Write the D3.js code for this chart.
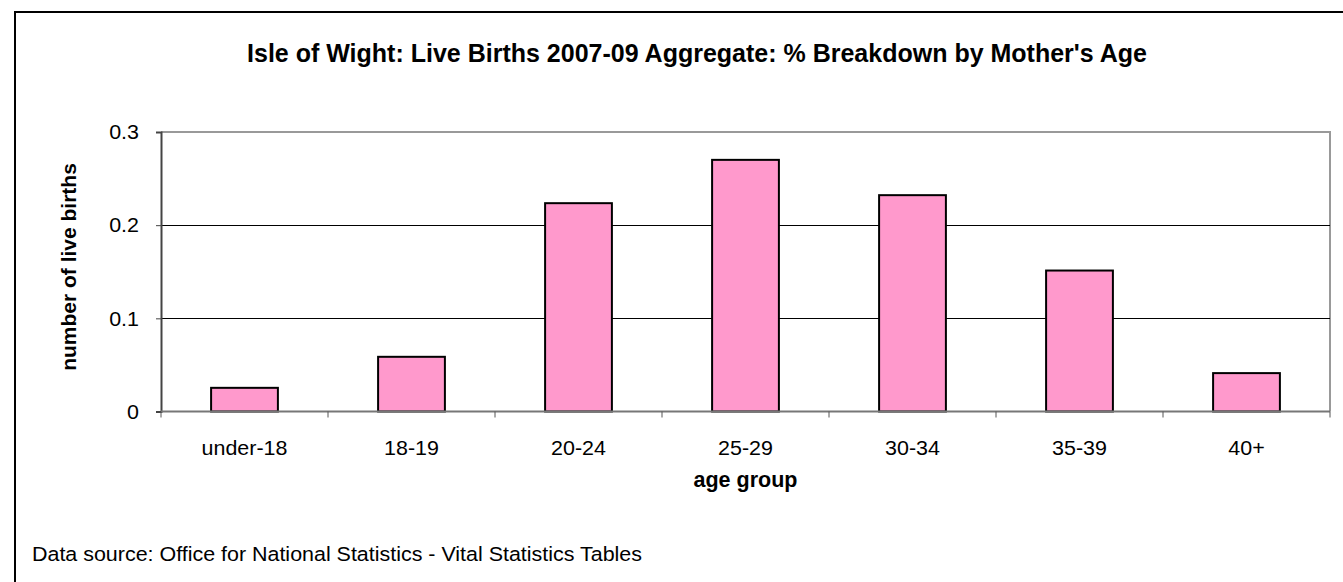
<!DOCTYPE html>
<html><head><meta charset="utf-8">
<script src="https://cdn.jsdelivr.net/npm/d3@7"></script>
<style>
html,body{margin:0;padding:0;background:#fff;}
svg{display:block;font-family:"Liberation Sans",Arial,sans-serif;}
</style></head>
<body><svg id="c" width="1343" height="582"></svg>
<script>
const categories = ["under-18","18-19","20-24","25-29","30-34","35-39","40+"];
const values = [0.0254, 0.0587, 0.2236, 0.2701, 0.2322, 0.1513, 0.0412];
const yTicks = [0, 0.1, 0.2, 0.3];
const yTickLabels = ["0","0.1","0.2","0.3"];
const title = "Isle of Wight: Live Births 2007-09 Aggregate: % Breakdown by Mother's Age";
const xTitle = "age group";
const yTitle = "number of live births";
const source = "Data source: Office for National Statistics - Vital Statistics Tables";

const svg = d3.select("#c");
const W = 1343, H = 582;
const m = {left:161, top:132, right:1330, bottom:411.5};
const SX = 1.1, FS = 19.5;

// outer frame
svg.append("rect").attr("x",15).attr("y",12).attr("width",W+10).attr("height",H+10)
  .attr("fill","#fff").attr("stroke","#000").attr("stroke-width",2);

const x = d3.scaleBand().domain(categories).range([m.left,m.right]).paddingInner(0.6).paddingOuter(0.3);
const xEdges = d3.scaleLinear().domain([0,categories.length]).range([m.left,m.right]);
const y = d3.scaleLinear().domain([0,0.3]).range([m.bottom,m.top]);

// plot border (top/right gray)
svg.append("path").attr("d",`M${m.left},${m.top}H${m.right}V${m.bottom}`)
  .attr("fill","none").attr("stroke","#999").attr("stroke-width",2);

// gridlines
svg.append("g").selectAll("line").data(yTicks.filter(d=>d>0 && d<0.3)).join("line")
  .attr("x1",m.left).attr("x2",m.right).attr("y1",d=>Math.round(y(d))+0.5).attr("y2",d=>Math.round(y(d))+0.5)
  .attr("stroke","#000").attr("stroke-width",1);

// bars
svg.append("g").selectAll("rect").data(values).join("rect")
  .attr("x",(d,i)=>x(categories[i])).attr("width",x.bandwidth())
  .attr("y",d=>y(d)).attr("height",d=>y(0)-y(d))
  .attr("fill","#FF99CC").attr("stroke","#000").attr("stroke-width",2);

// y axis
const ya = d3.axisLeft(y).tickValues(yTicks).tickFormat("").tickSize(5);
const yg = svg.append("g").attr("transform",`translate(${m.left},0)`).call(ya);
yg.select(".domain").attr("stroke","#444").attr("stroke-width",2);
yg.selectAll(".tick line").attr("stroke","#444");
svg.append("g").selectAll("text").data(yTicks).join("text")
  .attr("transform",d=>`translate(139,${y(d)+7.2}) scale(${SX},1)`)
  .attr("text-anchor","end").attr("font-size",FS).attr("fill","#000")
  .text((d,i)=>yTickLabels[i]);

// x axis
const xg = svg.append("g").attr("transform",`translate(0,${m.bottom})`);
xg.append("line").attr("x1",m.left).attr("x2",m.right).attr("y1",0).attr("y2",0).attr("stroke","#777").attr("stroke-width",2);
xg.selectAll("line.t").data(d3.range(categories.length+1)).join("line").attr("class","t")
  .attr("x1",d=>xEdges(d)).attr("x2",d=>xEdges(d)).attr("y1",0).attr("y2",6).attr("stroke","#555");
svg.append("g").selectAll("text").data(categories).join("text")
  .attr("transform",d=>`translate(${x(d)+x.bandwidth()/2},455) scale(${SX},1)`)
  .attr("text-anchor","middle").attr("font-size",FS).attr("fill","#000").text(d=>d);

// titles
svg.append("text").attr("x",697).attr("y",62).attr("text-anchor","middle")
  .attr("font-size",25).attr("font-weight","bold").text(title);
svg.append("text").attr("x",(m.left+m.right)/2).attr("y",487).attr("text-anchor","middle")
  .attr("font-size",21.5).attr("font-weight","bold").text(xTitle);
svg.append("text").attr("transform",`translate(76,267) rotate(-90)`).attr("text-anchor","middle")
  .attr("font-size",21).attr("font-weight","bold").text(yTitle);
svg.append("text").attr("transform",`translate(32,561) scale(${SX},1)`).attr("font-size",FS).text(source);
</script></body></html>
